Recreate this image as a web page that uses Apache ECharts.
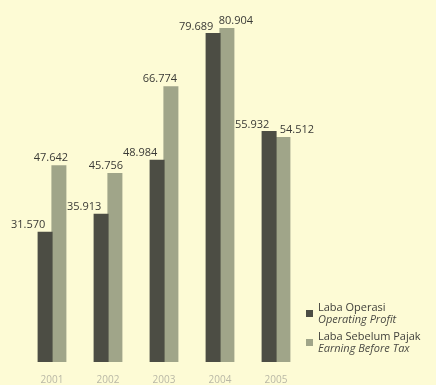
<!DOCTYPE html>
<html>
<head>
<meta charset="utf-8">
<script src="https://cdn.jsdelivr.net/npm/echarts@6/dist/echarts.min.js"></script>
<style>
html,body{margin:0;padding:0;background:#fdfbd5;}
#c{width:436px;height:385px;}
</style>
</head>
<body>
<div id="c"></div>
<script>
const years = ['2001', '2002', '2003', '2004', '2005'];
const operatingProfit = [31570, 35913, 48984, 79689, 55932];
const earningBeforeTax = [47642, 45756, 66774, 80904, 54512];
const seriesNamesId = ['Laba Operasi', 'Laba Sebelum Pajak'];
const seriesNamesEn = ['Operating Profit', 'Earning Before Tax'];

const ebtLabelShiftX = [-8, -9, -11, 9, 14];

function fmt(v) {
  return String(v).replace(/\B(?=(\d{3})+(?!\d))/g, '.');
}

const chart = echarts.init(document.getElementById('c'));
const font = '"Open Sans", "Noto Sans", sans-serif';
chart.setOption({
  backgroundColor: '#fdfbd5',
  animation: false,
  grid: { left: 24, right: 132, top: 11, bottom: 22 },
  xAxis: {
    type: 'category',
    data: years,
    axisLine: { show: false },
    axisTick: { show: false },
    axisLabel: { color: '#b9b8a6', fontSize: 10, fontFamily: font, margin: 13 }
  },
  yAxis: {
    type: 'value',
    min: 0, max: 85000,
    show: false,
    splitLine: { show: false }
  },
  legend: {
    orient: 'vertical',
    left: 301, top: 297,
    itemWidth: 7, itemHeight: 7,
    itemGap: 6,
    icon: 'rect',
    data: seriesNamesId,
    formatter: function (name) {
      const i = seriesNamesId.indexOf(name);
      return '{a|' + name + '}\n{b|' + seriesNamesEn[i] + '}';
    },
    textStyle: {
      rich: {
        a: { fontSize: 11, color: '#3f3f3a', fontFamily: font, lineHeight: 12 },
        b: { fontSize: 11, color: '#4a4a44', fontStyle: 'italic', fontFamily: font, lineHeight: 12 }
      }
    }
  },
  series: [
    {
      name: seriesNamesId[0],
      type: 'bar',
      data: operatingProfit,
      barWidth: 15,
      barGap: '-8%',
      z: 3,
      itemStyle: { color: '#4c4d44' },
      label: {
        show: true, position: 'top', offset: [-17, 4],
        fontSize: 11, color: '#3a3a36', fontFamily: font,
        formatter: p => fmt(p.value)
      }
    },
    {
      name: seriesNamesId[1],
      type: 'bar',
      data: earningBeforeTax.map((v, i) => ({
        value: v,
        label: { offset: [ebtLabelShiftX[i], 3] }
      })),
      barWidth: 15,
      z: 2,
      itemStyle: { color: '#a0a589' },
      label: {
        show: true, position: 'top',
        fontSize: 11, color: '#3a3a36', fontFamily: font,
        formatter: p => fmt(p.value)
      }
    }
  ]
});
</script>
</body>
</html>
